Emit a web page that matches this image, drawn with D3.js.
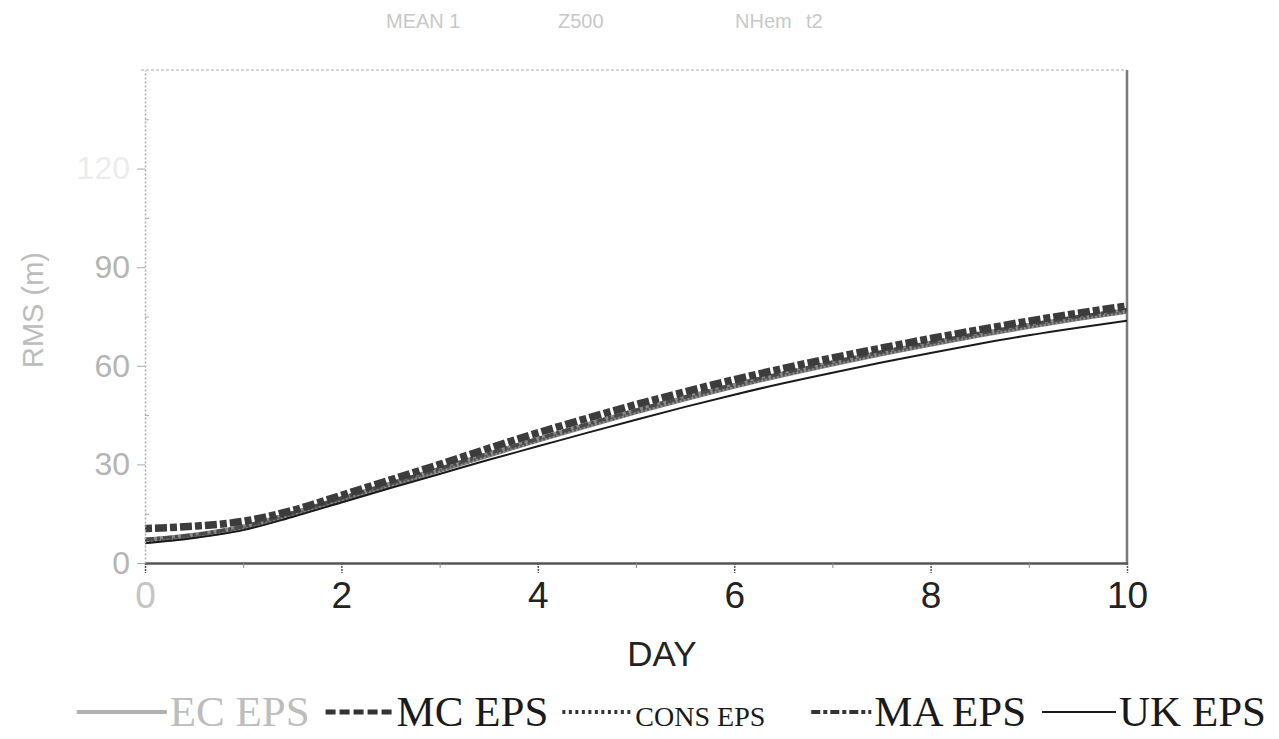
<!DOCTYPE html>
<html>
<head>
<meta charset="utf-8">
<script src="https://cdn.jsdelivr.net/npm/d3@7"></script>
<style>
  body { margin: 0; background: #fff; }
  svg { display: block; }
</style>
</head>
<body>
<svg id="chart" width="1279" height="739"></svg>
<script>
// Forecast day (0 to 10, every half day)
const days = [0, 0.5, 1, 1.5, 2, 2.5, 3, 3.5, 4, 4.5, 5, 5.5, 6, 6.5, 7, 7.5, 8, 8.5, 9, 9.5, 10];

// RMS error (m) per ensemble system
const ecEps   = [6.8, 8.3, 10.8, 14.9, 19.4, 23.9, 28.4, 33.0, 37.5, 41.9, 46.1, 50.1, 53.9, 57.4, 60.7, 63.8, 66.7, 69.5, 72.1, 74.5, 76.7];
const mcEps   = [10.5, 11.2, 12.7, 16.0, 20.6, 25.3, 30.0, 34.9, 39.6, 44.0, 48.2, 52.1, 55.8, 59.2, 62.4, 65.4, 68.3, 71.0, 73.6, 76.0, 78.2];
const consEps = [6.4, 8.0, 10.5, 14.6, 19.1, 23.6, 28.1, 32.7, 37.2, 41.6, 45.8, 49.8, 53.6, 57.1, 60.4, 63.5, 66.4, 69.2, 71.8, 74.2, 76.4];
const maEps   = [7.2, 8.6, 11.1, 15.2, 19.7, 24.2, 28.7, 33.3, 37.8, 42.2, 46.5, 50.5, 54.3, 57.8, 61.1, 64.2, 67.1, 69.9, 72.5, 74.9, 77.1];
const ukEps   = [6.0, 7.6, 10.0, 14.0, 18.4, 22.8, 27.1, 31.4, 35.5, 39.6, 43.6, 47.5, 51.2, 54.7, 57.9, 61.0, 63.9, 66.7, 69.3, 71.6, 73.7];

// Axis ticks
const xTicks = [0, 2, 4, 6, 8, 10];
const xMinorTicks = [1, 3, 5, 7, 9];
const yTicks = [0, 30, 60, 90, 120];
const yMinorTicks = [15, 45, 75, 105, 135];

const seriesNames = ["EC EPS", "MC EPS", "CONS EPS", "MA EPS", "UK EPS"];
const seriesValues = [ecEps, mcEps, consEps, maEps, ukEps];

// Line styles for each series
const styles = {
  "EC EPS":   { stroke: "#8c8c8c", width: 6,   dash: null },
  "MC EPS":   { stroke: "#3c3c3c", width: 7.5, dash: "7,3,12,3" },
  "CONS EPS": { stroke: "#5a5a5a", width: 3,   dash: "2,2" },
  "MA EPS":   { stroke: "#4a4a4a", width: 3.5, dash: "9,3,3,3" },
  "UK EPS":   { stroke: "#1a1a1a", width: 2,   dash: null }
};

const svg = d3.select("#chart");

const x = d3.scaleLinear().domain([0, 10]).range([145, 1127]);
const y = d3.scaleLinear().domain([0, 150]).range([563, 70]);

// Frame: faint top edge and solid right edge
svg.append("line")
  .attr("x1", x(0) - 4).attr("x2", x(10)).attr("y1", y(150)).attr("y2", y(150))
  .attr("stroke", "#c8c8c8").attr("stroke-width", 1.5).attr("stroke-dasharray", "3,2");
svg.append("line")
  .attr("x1", x(10)).attr("x2", x(10)).attr("y1", y(150)).attr("y2", y(0))
  .attr("stroke", "#7a7a7a").attr("stroke-width", 2.5);

// Lines
const line = d3.line()
  .x((d, i) => x(days[i]))
  .y(d => y(d))
  .curve(d3.curveMonotoneX);

const drawOrder = ["EC EPS", "CONS EPS", "MA EPS", "MC EPS", "UK EPS"];
drawOrder.forEach(name => {
  const vals = seriesValues[seriesNames.indexOf(name)];
  const s = styles[name];
  svg.append("path")
    .datum(vals)
    .attr("d", line)
    .attr("fill", "none")
    .attr("stroke", s.stroke)
    .attr("stroke-width", s.width)
    .attr("stroke-dasharray", s.dash);
});

// X axis
const xAxis = svg.append("g")
  .attr("transform", `translate(0,${y(0)})`)
  .call(d3.axisBottom(x).tickValues(xTicks).tickSize(10).tickSizeOuter(0).tickPadding(9).tickFormat(d3.format("d")));
xAxis.select(".domain").attr("stroke", "#555").attr("stroke-width", 2.5);
xAxis.selectAll(".tick line").attr("stroke", "#555").attr("stroke-width", 1.5).attr("stroke-dasharray", "2,1");
xAxis.selectAll(".tick text")
  .attr("font-family", "Liberation Sans, Arial, sans-serif")
  .attr("font-size", 37)
  .attr("fill", d => d === 0 ? "#c4c4c4" : "#222");
svg.append("g")
  .attr("transform", `translate(0,${y(0)})`)
  .call(d3.axisBottom(x).tickValues(xMinorTicks).tickSize(5).tickFormat(""))
  .call(g => g.select(".domain").remove())
  .selectAll(".tick line").attr("stroke", "#888");

// Y axis
const yAxis = svg.append("g")
  .attr("transform", `translate(${x(0)},0)`)
  .call(d3.axisLeft(y).tickValues(yTicks).tickSize(8).tickSizeOuter(0).tickPadding(7));
yAxis.select(".domain").attr("stroke", "#aaa").attr("stroke-width", 1.5).attr("stroke-dasharray", "2,2");
yAxis.selectAll(".tick line").attr("stroke", "#aaa");
yAxis.selectAll(".tick text")
  .attr("font-family", "Liberation Sans, Arial, sans-serif")
  .attr("font-size", 32)
  .attr("fill", d => d === 120 ? "#ececec" : "#b4b4b4");
svg.append("g")
  .attr("transform", `translate(${x(0)},0)`)
  .call(d3.axisRight(y).tickValues(yMinorTicks).tickSize(4).tickFormat(""))
  .call(g => g.select(".domain").remove())
  .selectAll(".tick line").attr("stroke", "#aaa");

// Axis titles
svg.append("text")
  .attr("x", 662).attr("y", 666)
  .attr("text-anchor", "middle")
  .attr("font-family", "Liberation Sans, Arial, sans-serif")
  .attr("font-size", 35)
  .attr("fill", "#222")
  .text("DAY");

svg.append("text")
  .attr("transform", "translate(43,310) rotate(-90)")
  .attr("text-anchor", "middle")
  .attr("font-family", "Liberation Sans, Arial, sans-serif")
  .attr("font-size", 29)
  .attr("fill", "#bcbcbc")
  .text("RMS (m)");

// Title pieces
const titleParts = [
  { t: "MEAN  1", x: 386 },
  { t: "Z500", x: 558 },
  { t: "NHem", x: 735 },
  { t: "t2", x: 806 }
];
svg.selectAll(".title-part")
  .data(titleParts)
  .join("text")
  .attr("class", "title-part")
  .attr("x", d => d.x).attr("y", 28)
  .attr("font-family", "Liberation Sans, Arial, sans-serif")
  .attr("font-size", 20)
  .attr("fill", "#c8c8c8")
  .text(d => d.t);

// Legend: sample line followed by label, laid out left to right
const legendItems = [
  { name: "EC EPS",   len: 90, size: 43, color: "#bdbdbd", gapAfter: 16 },
  { name: "MC EPS",   len: 68, size: 43, color: "#1a1a1a", gapAfter: 14 },
  { name: "CONS EPS", len: 70, size: 28, color: "#1a1a1a", gapAfter: 46 },
  { name: "MA EPS",   len: 60, size: 43, color: "#1a1a1a", gapAfter: 16 },
  { name: "UK EPS",   len: 74, size: 43, color: "#1a1a1a", gapAfter: 0 }
];
const legendStyles = {
  "EC EPS":   { stroke: "#b0b0b0", width: 4, dash: null },
  "MC EPS":   { stroke: "#333",    width: 5, dash: "10,4" },
  "CONS EPS": { stroke: "#333",    width: 4, dash: "3,3.5" },
  "MA EPS":   { stroke: "#333",    width: 4, dash: "9,3,4,3" },
  "UK EPS":   { stroke: "#1a1a1a", width: 2, dash: null }
};
const legendY = 712;
const lg = svg.append("g");
let cursor = 0;
legendItems.forEach(it => {
  const s = legendStyles[it.name];
  lg.append("line")
    .attr("x1", cursor).attr("x2", cursor + it.len).attr("y1", legendY).attr("y2", legendY)
    .attr("stroke", s.stroke).attr("stroke-width", s.width).attr("stroke-dasharray", s.dash);
  cursor += it.len + 3;
  const t = lg.append("text")
    .attr("x", cursor).attr("y", legendY + 14)
    .attr("font-family", "Liberation Serif, Times New Roman, serif")
    .attr("font-size", it.size)
    .attr("fill", it.color)
    .text(it.name);
  cursor += t.node().getComputedTextLength() + it.gapAfter;
});
// Right-align the legend block near the right edge of the page
lg.attr("transform", `translate(${1266 - cursor},0)`);
</script>
</body>
</html>
